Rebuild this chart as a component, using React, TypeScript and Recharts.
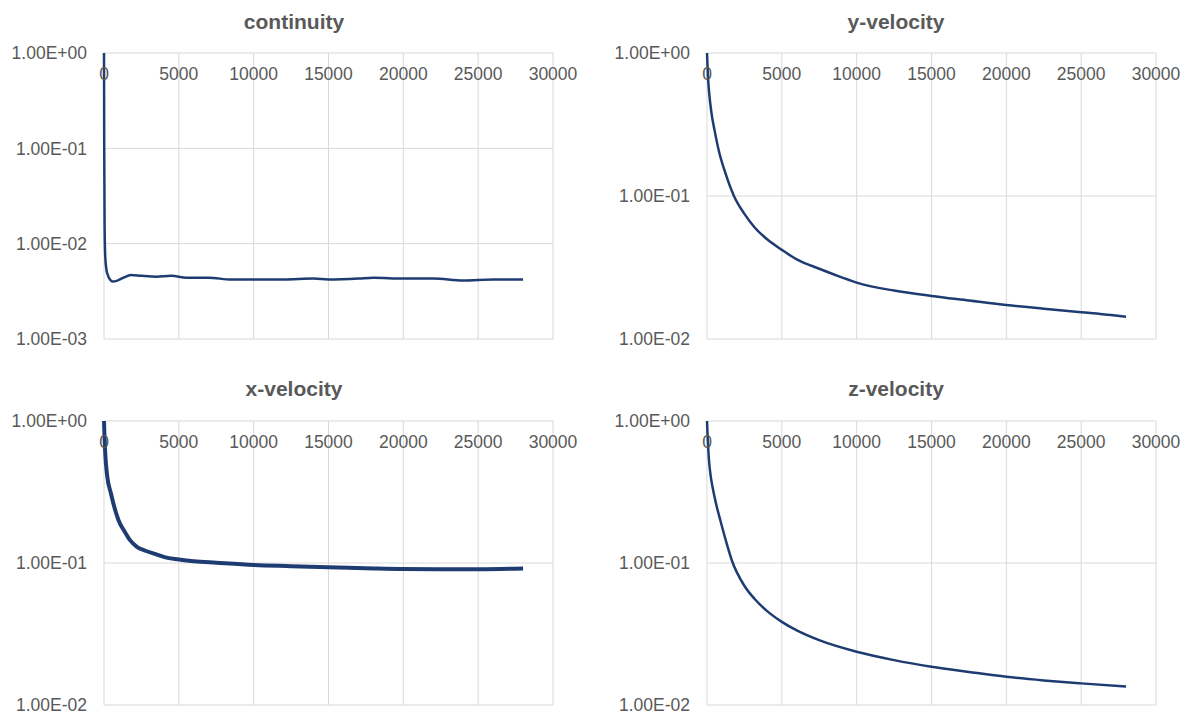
import React from 'react';
import { LineChart, Line, XAxis, YAxis, CartesianGrid } from 'recharts';

// ---- tick definitions ----
const xTicks = [0, 5000, 10000, 15000, 20000, 25000, 30000];
const yTicksContinuity = [0.001, 0.01, 0.1, 1];
const yTicksVelocity = [0.01, 0.1, 1];

// ---- continuity ----
const continuityIter = [0, 15, 40, 80, 150, 250, 400, 600, 900, 1300, 1800, 2500, 3500, 4500, 5500, 7000, 8500, 10000, 12000, 14000, 15000, 17000, 18000, 20000, 22000, 24000, 26000, 28000];
const continuityRes = [1.0, 0.1, 0.015, 0.0075, 0.0055, 0.0047, 0.0042, 0.0040, 0.0041, 0.0044, 0.0047, 0.0046, 0.0045, 0.0046, 0.0044, 0.0044, 0.0042, 0.0042, 0.0042, 0.0043, 0.0042, 0.0043, 0.0044, 0.0043, 0.0043, 0.0041, 0.0042, 0.0042];

// ---- y-velocity ----
const yVelIter = [0, 60, 150, 300, 500, 800, 1200, 1800, 2500, 3200, 4000, 5000, 6000, 7500, 9000, 10000, 12500, 15000, 17500, 20000, 22500, 25000, 27000, 28000];
const yVelRes = [1.0, 0.7, 0.52, 0.38, 0.29, 0.205, 0.148, 0.1, 0.075, 0.06, 0.05, 0.042, 0.036, 0.031, 0.027, 0.0248, 0.0218, 0.02, 0.0186, 0.0173, 0.0163, 0.0154, 0.0147, 0.0143];

// ---- x-velocity ----
const xVelIter = [0, 30, 80, 200, 460, 970, 1400, 1740, 2200, 2760, 3500, 4040, 5000, 6000, 7500, 10000, 12500, 15000, 17500, 20000, 22500, 25000, 28000];
const xVelRes = [1.0, 0.8, 0.6, 0.42, 0.31, 0.2, 0.165, 0.145, 0.13, 0.122, 0.115, 0.11, 0.106, 0.103, 0.1005, 0.0968, 0.095, 0.0933, 0.092, 0.0908, 0.0905, 0.0903, 0.0915];

// ---- z-velocity ----
const zVelIter = [0, 50, 127, 250, 380, 600, 890, 1250, 1650, 2540, 3170, 4000, 5000, 6000, 7490, 10000, 12500, 15000, 17500, 20000, 22500, 25000, 28000];
const zVelRes = [1.0, 0.75, 0.54, 0.407, 0.339, 0.263, 0.2, 0.145, 0.105, 0.068, 0.056, 0.046, 0.0385, 0.0335, 0.0286, 0.0237, 0.0207, 0.0186, 0.0171, 0.0158, 0.0149, 0.0142, 0.0135];

const TEXT = '#595959';
const GRID = '#d9d9d9';
const LINE = '#1F3C72';
const FONT = '"Liberation Sans", Arial, sans-serif';

const fmtExp = (v: number) => {
  const [m, e] = v.toExponential(2).split('e');
  const n = parseInt(e, 10);
  return `${m}E${n < 0 ? '-' : '+'}${String(Math.abs(n)).padStart(2, '0')}`;
};

type PanelProps = {
  title: string;
  iters: number[];
  values: number[];
  yTicks: number[];
  left: number;
  top: number;
  titleX: number;
  titleY: number;
  plotLeft: number;
  plotTop: number;
  plotRight: number;
  plotBottom: number;
  strokeWidth: number;
};

const W = 595;
const H = 359;
const Y_AXIS_W = 90;
const X_AXIS_H = 30;

const XTick = (props: any) => {
  const { x, y, payload } = props;
  return (
    <text
      x={x}
      y={y + 27}
      textAnchor="middle"
      fill={TEXT}
      fontSize={17.5}
      fontFamily={FONT}
    >
      {payload.value}
    </text>
  );
};

function Panel(p: PanelProps) {
  const data = p.iters.map((x, i) => ({ x, y: p.values[i] }));
  const tickStyle = { fill: TEXT, fontSize: 17.5, fontFamily: FONT };
  return (
    <div style={{ position: 'absolute', left: p.left, top: p.top, width: W, height: H }}>
      <div
        style={{
          position: 'absolute',
          left: p.titleX - 200,
          top: p.titleY - 12,
          width: 400,
          textAlign: 'center',
          fontFamily: FONT,
          fontWeight: 'bold',
          fontSize: 21,
          lineHeight: '24px',
          color: TEXT,
        }}
      >
        {p.title}
      </div>
      <LineChart
        width={W}
        height={H}
        data={data}
        margin={{
          top: p.plotTop - X_AXIS_H,
          left: p.plotLeft - Y_AXIS_W,
          right: W - p.plotRight,
          bottom: H - p.plotBottom,
        }}
        style={{ position: 'absolute', left: 0, top: 0 }}
      >
        <CartesianGrid stroke={GRID} strokeWidth={1} />
        <XAxis
          dataKey="x"
          type="number"
          orientation="top"
          domain={[0, 30000]}
          ticks={xTicks}
          height={X_AXIS_H}
          tickSize={0}
          tickMargin={0}
          tickLine={false}
          axisLine={false}
          tick={<XTick />}
          interval={0}
        />
        <YAxis
          type="number"
          scale="log"
          domain={[p.yTicks[0], 1]}
          ticks={p.yTicks}
          allowDataOverflow
          width={Y_AXIS_W}
          tickSize={0}
          tickMargin={17}
          tickLine={false}
          axisLine={false}
          tick={tickStyle}
          tickFormatter={fmtExp}
          interval={0}
        />
        <Line
          dataKey="y"
          type="monotone"
          stroke={LINE}
          strokeWidth={p.strokeWidth}
          dot={false}
          isAnimationActive={false}
        />
      </LineChart>
    </div>
  );
}

export default function App() {
  return (
    <div style={{ position: 'absolute', left: 0, top: 0, width: 1189, height: 718, background: '#fff' }}>
      <Panel
        title="continuity"
        iters={continuityIter}
        values={continuityRes}
        yTicks={yTicksContinuity}
        left={0}
        top={0}
        titleX={294}
        titleY={22}
        plotLeft={104}
        plotTop={53}
        plotRight={553}
        plotBottom={339}
        strokeWidth={2.5}
      />
      <Panel
        title="y-velocity"
        iters={yVelIter}
        values={yVelRes}
        yTicks={yTicksVelocity}
        left={595}
        top={0}
        titleX={301}
        titleY={22}
        plotLeft={112}
        plotTop={53}
        plotRight={561}
        plotBottom={339}
        strokeWidth={2.5}
      />
      <Panel
        title="x-velocity"
        iters={xVelIter}
        values={xVelRes}
        yTicks={yTicksVelocity}
        left={0}
        top={359}
        titleX={294}
        titleY={30}
        plotLeft={104}
        plotTop={62}
        plotRight={553}
        plotBottom={346}
        strokeWidth={4}
      />
      <Panel
        title="z-velocity"
        iters={zVelIter}
        values={zVelRes}
        yTicks={yTicksVelocity}
        left={595}
        top={359}
        titleX={301}
        titleY={30}
        plotLeft={112}
        plotTop={62}
        plotRight={561}
        plotBottom={346}
        strokeWidth={2.5}
      />
    </div>
  );
}
